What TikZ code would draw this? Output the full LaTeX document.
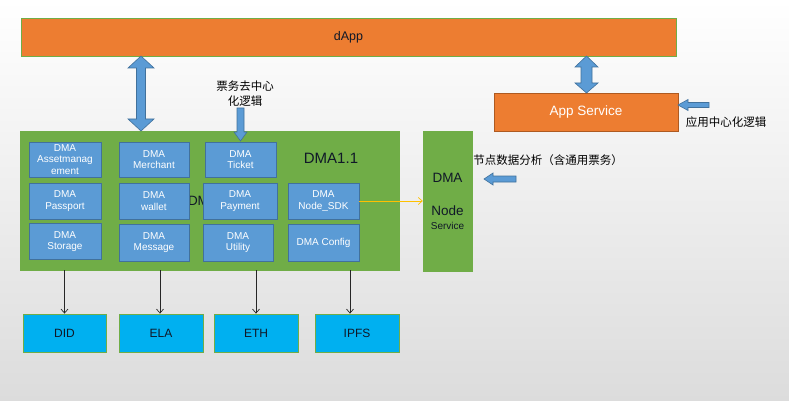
\documentclass[tikz,border=0pt]{standalone}
\usepackage{fontspec}
\setmainfont{Liberation Sans}
\newfontfamily\cjk{Noto Sans CJK SC}
\usetikzlibrary{arrows.meta,calc}
\definecolor{orangeF}{HTML}{ED7D31}
\definecolor{orangeD}{HTML}{AE5A21}
\definecolor{greenF}{HTML}{70AD47}
\definecolor{blueF}{HTML}{5B9BD5}
\definecolor{blueD}{HTML}{41719C}
\definecolor{cyanF}{HTML}{00B0F0}
\definecolor{yellowA}{HTML}{FFC000}
\definecolor{bgbot}{HTML}{DCDCDC}
\definecolor{txtdark}{HTML}{101828}
\tikzset{
  fs/.style={font=\fontsize{#1}{#1*1.15}\selectfont},
  orangebox/.style={fill=orangeF, inner sep=0pt, line width=0.8pt},
  greenbox/.style={fill=greenF, draw=greenF, inner sep=0pt},
  modbox/.style={fill=blueF, draw=blueD, line width=0.6pt, inner sep=0pt, text=white, align=center,
     font=\fontsize{10}{11.5}\selectfont},
  chainbox/.style={fill=cyanF, draw=greenF, line width=0.8pt, inner sep=0pt, text=txtdark,
     minimum width=84pt, minimum height=38pt, font=\fontsize{12}{14}\selectfont},
  blockarrow/.style={fill=blueF, draw=blueD, line width=0.6pt},
  downarrow/.style={draw=black!85, line width=0.7pt, -{Straight Barb[length=4pt,width=7pt]}},
  sdkarrow/.style={draw=yellowA, line width=0.7pt, -{Straight Barb[length=4pt,width=7pt]}},
  cjktext/.style={font=\cjk\fontsize{11.5}{15}\selectfont, align=center, inner sep=0pt}
}
\begin{document}
\begin{tikzpicture}[x=1pt,y=-1pt]
\useasboundingbox (0,0) rectangle (789,401);
\shade[top color=white, bottom color=bgbot] (0,0) rectangle (789,401);

% top layer
\node[orangebox, draw=greenF, minimum width=655pt, minimum height=38pt, text=txtdark,
      font=\fontsize{12.5}{14}\selectfont] (dapp) at (348.5,37) {dApp};
\node[orangebox, draw=orangeD, minimum width=184pt, minimum height=38pt, text=white,
      font=\fontsize{13.5}{15}\selectfont] (appsvc) at (586,112) {App Service};

% DMA main box
\node[greenbox, minimum width=379pt, minimum height=139pt] (dma) at (209.5,200.5) {};
\node[inner sep=0pt, text=txtdark, font=\fontsize{13.5}{15}\selectfont] (dmalabel) at (203,201) {DMA};
\node[inner sep=0pt, text=txtdark, font=\fontsize{15}{17}\selectfont] (dmaver) at (331,158) {DMA1.1};

% DMA node service
\node[greenbox, minimum width=49pt, minimum height=140pt] (nodesvc) at (447.5,201) {};
\node[inner sep=0pt, text=txtdark, font=\fontsize{13.5}{15}\selectfont] (nsdma) at (447.5,178) {DMA};
\node[inner sep=0pt, text=txtdark, font=\fontsize{13.5}{15}\selectfont] (nsnode) at (447.5,211) {Node};
\node[inner sep=0pt, text=txtdark, font=\fontsize{10}{12}\selectfont] (nsservice) at (447.5,226) {Service};

% module boxes
\node[modbox, minimum width=72pt, minimum height=35pt] (asset) at (65,159.5) {DMA\\Assetmanag\\ement};
\node[modbox, minimum width=70pt, minimum height=35pt] (merchant) at (154,159.5) {DMA\\Merchant};
\node[modbox, minimum width=71pt, minimum height=35pt] (ticket) at (240.5,159.5) {DMA\\Ticket};
\node[modbox, minimum width=72pt, minimum height=36pt] (passport) at (65,201) {DMA\\Passport};
\node[modbox, minimum width=70pt, minimum height=36pt] (wallet) at (154,201) {DMA\\wallet};
\node[modbox, minimum width=74pt, minimum height=36pt] (payment) at (240,201) {DMA\\Payment};
\node[modbox, minimum width=71pt, minimum height=36pt] (sdk) at (323.5,201) {DMA\\Node\_SDK};
\node[modbox, minimum width=72pt, minimum height=36pt] (storage) at (65,241.5) {DMA\\Storage};
\node[modbox, minimum width=70pt, minimum height=37pt] (message) at (154,242.5) {DMA\\Message};
\node[modbox, minimum width=70pt, minimum height=37pt] (utility) at (238,242.5) {DMA\\Utility};
\node[modbox, minimum width=71pt, minimum height=37pt] (config) at (323.5,242.5) {DMA Config};

% chain boxes
\node[chainbox, minimum width=83pt] (did) at (64.5,333) {DID};
\node[chainbox] (ela) at (161,333) {ELA};
\node[chainbox] (eth) at (256,333) {ETH};
\node[chainbox] (ipfs) at (357,333) {IPFS};

% connectors to chain boxes
\draw[downarrow] (did.north |- dma.south) -- (did.north);
\path ([xshift=-1pt]ela.north) coordinate (elain);
\draw[downarrow] (elain |- dma.south) -- (elain);
\draw[downarrow] (eth.north |- dma.south) -- (eth.north);
\path ([xshift=-7pt]ipfs.north) coordinate (ipfsin);
\draw[downarrow] (ipfsin |- dma.south) -- (ipfsin);

% SDK to node service
\draw[sdkarrow] (sdk.east) -- (nodesvc.west);

% texts
\node[cjktext] (ticketnote) at (245,94) {票务去中心\\化逻辑};
\node[cjktext] (appnote) at (726,122) {应用中心化逻辑};
\node[cjktext] (nodenote) at (548,160) {节点数据分析（含通用票务）};

% block arrows
\draw[blockarrow] (141,56) -- (154,68) -- (145.5,68) -- (145.5,119) -- (154,119) -- (141,131)
   -- (128,119) -- (136.5,119) -- (136.5,68) -- (128,68) -- cycle;
\draw[blockarrow] (586.5,56) -- (598,67) -- (592,67) -- (592,83) -- (598,83) -- (586.5,93)
   -- (575,83) -- (581,83) -- (581,67) -- (575,67) -- cycle;
\draw[blockarrow] (237,108) -- (244,108) -- (244,132) -- (247,132) -- (240.5,141)
   -- (234,132) -- (237,132) -- cycle;
\draw[blockarrow] (709,102.5) -- (688,102.5) -- (688,99.5) -- (678,105) -- (688,110.5)
   -- (688,107.5) -- (709,107.5) -- cycle;
\draw[blockarrow] (516,176) -- (493,176) -- (493,173) -- (484,179) -- (493,185)
   -- (493,182) -- (516,182) -- cycle;
\end{tikzpicture}
\end{document}
